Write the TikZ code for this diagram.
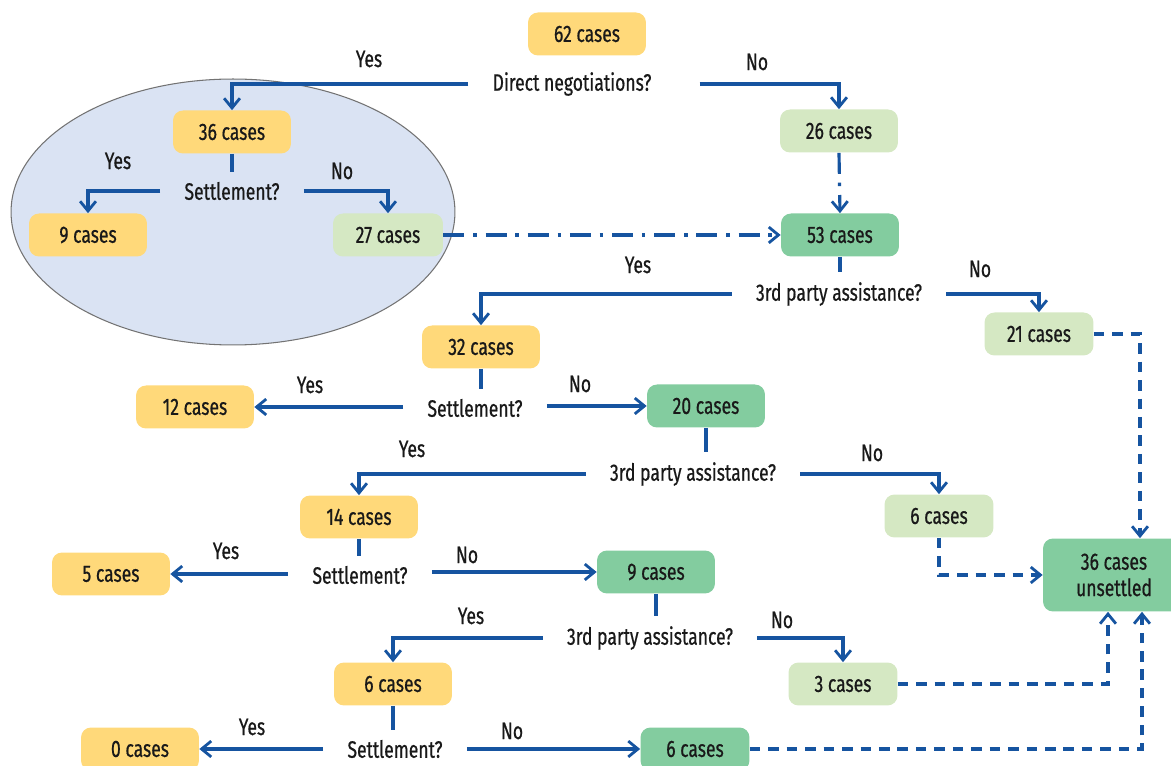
\documentclass[tikz,border=0pt]{standalone}
\usepackage{fontspec}
\setmainfont[FakeStretch=0.74, FakeBold=0.6]{Fira Sans}
\usetikzlibrary{arrows.meta,calc}

\definecolor{flowblue}{RGB}{22,84,160}
\definecolor{caseyel}{RGB}{255,217,122}
\definecolor{caseltg}{RGB}{213,232,195}
\definecolor{casegrn}{RGB}{131,204,159}
\definecolor{ovalblue}{RGB}{218,227,243}

\tikzset{
    casebox/.style={rounded corners=0.2cm, minimum width=2.36cm, minimum height=0.86cm, inner sep=0pt, text=black!90},
    yelbox/.style={casebox, fill=caseyel},
    ltgbox/.style={casebox, fill=caseltg},
    grnbox/.style={casebox, fill=casegrn},
    narrow/.style={minimum width=2.18cm},
    quest/.style={inner xsep=0.48cm, inner ysep=0.2cm, text=black!90},
    lab/.style={text=black!90},
    flow/.style={draw=flowblue, line width=1.8pt, -{Straight Barb[length=5.5pt, width=9pt, line width=1.6pt]}},
    link/.style={draw=flowblue, line width=1.8pt},
    dashflow/.style={flow, dash pattern=on 6pt off 4.5pt},
    dotflow/.style={flow, dash pattern=on 12pt off 5pt on 2pt off 5pt}
}

\begin{document}
\begin{tikzpicture}[x=0.02cm, y=-0.02cm, font=\fontsize{13.5}{15}\selectfont]
        \useasboundingbox (0,0) rectangle (1171,766);

        % direct negotiations
        \draw[fill=ovalblue, draw=black!55, line width=0.6pt] (233,212) ellipse [x radius=4.44cm, y radius=2.66cm];

        % boxes
        \node[yelbox] (c62) at (587,34) {62 cases};
        \node[quest] (q1) at (572,84) {Direct negotiations?};
        \node[yelbox] (c36) at (232,132) {36 cases};
        \node[ltgbox] (c26) at (839,131) {26 cases};
        \node[quest] (s1) at (232,191) {Settlement?};
        \node[yelbox] (c9) at (88,235) {9 cases};
        \node[ltgbox, minimum width=2.2cm] (c27) at (388,235) {27 cases};
        \node[grnbox] (c53) at (840,235) {53 cases};
        \node[quest] (q2) at (839,294) {3rd party assistance?};
        \node[ltgbox, narrow] (c21) at (1039,334) {21 cases};
        \node[yelbox] (c32) at (481,347) {32 cases};
        \node[quest] (s2) at (475,408) {Settlement?};
        \node[yelbox] (c12) at (195,407) {12 cases};
        \node[grnbox] (c20) at (706,406) {20 cases};
        \node[quest] (q3) at (693,474) {3rd party assistance?};
        \node[yelbox] (c14) at (359,517) {14 cases};
        \node[ltgbox, narrow] (c6a) at (939,516) {6 cases};
        \node[quest] (s3) at (360,575) {Settlement?};
        \node[yelbox] (c5) at (111,574) {5 cases};
        \node[grnbox] (c9b) at (656,572) {9 cases};
        \node[quest] (q4) at (650,638) {3rd party assistance?};
        \node[yelbox] (c6b) at (393,684) {6 cases};
        \node[ltgbox, narrow] (c3) at (843,684) {3 cases};
        \node[quest] (s4) at (395,749) {Settlement?};
        \node[yelbox] (c0) at (140,749) {0 cases};
        \node[grnbox, narrow] (c6c) at (695,749) {6 cases};
        \node[grnbox, minimum width=2.84cm, minimum height=1.46cm, align=center] (cun) at (1114,575) {36 cases\\unsettled};

        % yes / no
        \foreach \x/\y/\t [count=\i] in {369/59/Yes, 757/62/No, 118/161/Yes, 342/171/No,
                638/265/Yes, 980/269/No, 310/385/Yes, 580/384/No, 412/449/Yes, 872/453/No,
                226/551/Yes, 467/555/No, 471/616/Yes, 782/620/No, 252/727/Yes, 512/731/No} {
            \node[lab] (yn\i) at (\x,\y) {\t};
        }

        % solid flow
        \draw[flow] (q1.west) -| (c36.north);
        \draw[flow] ($(q1.east)+(24,0)$) -| (c26.north);
        \draw[link] (c36.south) -- (c36.south |- s1.north);
        \draw[flow] (s1.west) -| (c9.north);
        \draw[flow] (s1.east) -| (c27.north);
        \draw[link] (c53.south) -- (c53.south |- q2.north);
        \draw[flow] (q2.west) -| (c32.north);
        \draw[flow] (q2.east) -| (c21.north);
        \draw[link] (c32.south) -- (c32.south |- s2.north);
        \draw[flow] (s2.west |- c12.east) -- (c12.east);
        \draw[flow] (s2.east |- c20.west) -- (c20.west);
        \draw[link] (c20.south) -- (c20.south |- q3.north);
        \draw[flow] (q3.west) -| (c14.north);
        \draw[flow] (q3.east) -| (c6a.north);
        \draw[link] (c14.south) -- (c14.south |- s3.north);
        \draw[flow] (s3.west |- c5.east) -- (c5.east);
        \draw[flow] (s3.east |- c9b.west) -- (c9b.west);
        \draw[link] (c9b.south) -- (c9b.south |- q4.north);
        \draw[flow] (q4.west) -| (c6b.north);
        \draw[flow] (q4.east) -| (c3.north);
        \draw[link] (c6b.south) -- (c6b.south |- s4.north);
        \draw[flow] (s4.west |- c0.east) -- (c0.east);
        \draw[flow] (s4.east |- c6c.west) -- (c6c.west);

        % merged and unsettled
        \draw[dotflow] (c27.east) -- (c53.west);
        \draw[dotflow] (c26.south) -- (c53.north);
        \draw[dashflow] (c21.east) -| ($(cun.north)+(26,0)$);
        \draw[dashflow] (c6a.south) |- (cun.west);
        \draw[dashflow] (c3.east) -| ($(cun.south)+(-6,0)$);
        \draw[dashflow] (c6c.east) -| ($(cun.south)+(28,0)$);

    \end{tikzpicture}
\end{document}
